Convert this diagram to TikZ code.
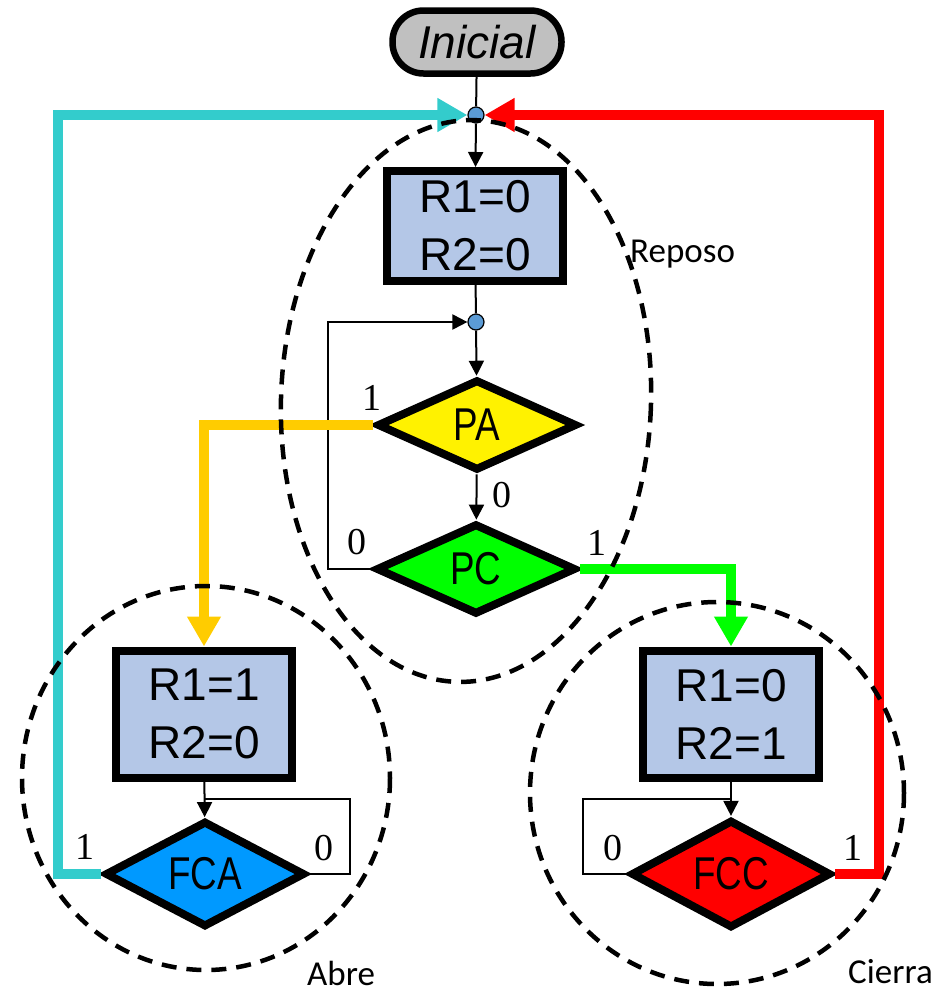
\documentclass[tikz,border=0pt]{standalone}
\usepackage{fontspec}
\usepackage{xcolor}
\usetikzlibrary{arrows.meta}
\usetikzlibrary{shapes.geometric}
\usetikzlibrary{calc}
\newfontfamily\boxfont{Liberation Sans}
\newfontfamily\condfont[FakeStretch=0.8]{Liberation Sans}
\newfontfamily\bitfont{Liberation Serif}
\newfontfamily\zonefont{Carlito}
\definecolor{boxblue}{RGB}{180,199,231}
\definecolor{dotblue}{RGB}{91,155,213}
\definecolor{startgray}{RGB}{192,192,192}
\definecolor{opencyan}{RGB}{51,204,204}
\definecolor{gold}{RGB}{255,204,0}
\definecolor{fcablue}{RGB}{0,153,255}

\begin{document}
\begin{tikzpicture}[x=1pt,y=-1pt,>={Triangle[length=15pt,width=15pt]},
      terminal/.style={draw,line width=6.5pt,fill=startgray,rounded corners=31pt,
        minimum width=169pt,minimum height=63pt,
        font=\boxfont\itshape\fontsize{46}{50}\selectfont},
      state/.style={draw,line width=8pt,fill=boxblue,minimum width=176pt,align=center,
        font=\boxfont\fontsize{46}{58}\selectfont},
      test/.style={diamond,draw,line width=8pt,minimum width=200pt,minimum height=91pt,
        inner sep=0pt,font=\condfont\fontsize{46}{50}\selectfont},
      joint/.style={circle,draw,line width=1.2pt,fill=dotblue,minimum size=16pt,inner sep=0pt},
      bit/.style={font=\bitfont\fontsize{38}{40}\selectfont,inner sep=0pt},
      zone/.style={dash pattern=on 15pt off 10pt,line width=4.5pt},
      zonelabel/.style={font=\zonefont\fontsize{35}{40}\selectfont,inner sep=0pt,anchor=base west},
      flow/.style={line width=2pt},
      jump/.style={line width=9.5pt,-{Triangle[length=30pt,width=32pt]}}]
    \useasboundingbox (0,0) rectangle (944,994);

    \node[terminal] (start) at (477,42) {Inicial};
    \node[joint] (top) at (476,115) {};
    \node[state,minimum height=110pt] (rest) at (475,226) {R1=0\\R2=0};
    \node[joint] (mid) at (476,322) {};
    \node[test,fill=yellow] (PA) at (477,425) {PA};
    \node[test,fill=green] (PC) at (476,569) {PC};
    \node[state,minimum height=127pt] (open) at (204,714) {R1=1\\R2=0};
    \node[state,minimum height=127pt] (close) at (731,714) {R1=0\\R2=1};
    \node[test,fill=fcablue] (FCA) at (205,874) {FCA};
    \node[test,fill=red] (FCC) at (731,874) {FCC};

    \node[bit] (pa1) at (372,398) {1};
    \node[bit] (pa0) at (502,495) {0};
    \node[bit] (pc0) at (357,542) {0};
    \node[bit] (pc1) at (597,543) {1};
    \node[bit] (fca1) at (85,847) {1};
    \node[bit] (fca0) at (324,848) {0};
    \node[bit] (fcc0) at (613,848) {0};
    \node[bit] (fcc1) at (853,848) {1};

    \draw[flow] (start) -- (top);
    \draw[flow,->] (top) -- (rest);
    \draw[flow] (rest) -- (mid);
    \draw[flow,->] (mid) -- (PA);
    \draw[flow,->] (PA) -- (PC);
    \draw[flow,->] (PC.west) -- ++(-44,0) |- (mid);
    \draw[flow,->] (open) -- (FCA);
    \draw[flow] (FCA.east) -- ++(41,0) |- ($(open.south)!.5!(FCA.north)$);
    \draw[flow,->] (close) -- (FCC);
    \draw[flow] (FCC.west) -- ++(-44,0) |- ($(close.south)!.5!(FCC.north)$);

    \draw[jump,draw=gold] (PA.west) -| (open.north);
    \draw[jump,draw=green] (PC.east) -| (close.north);
    \draw[jump,draw=opencyan] (FCA.west) -- ++(-43,0) |- (top);
    \draw[jump,draw=red] (FCC.east) -- ++(44,0) |- (top);

    \draw[zone,rotate around={-2:(466,401)}] (466,401) ellipse [x radius=185,y radius=281];
    \draw[zone] (206,778) ellipse [x radius=184,y radius=192];
    \draw[zone] (717,793) ellipse [x radius=187,y radius=191];
    \node[zonelabel] (reposo) at (630,262) {Reposo};
    \node[zonelabel] (abre) at (307,985) {Abre};
    \node[zonelabel] (cierra) at (848,983) {Cierra};
  \end{tikzpicture}
\end{document}
